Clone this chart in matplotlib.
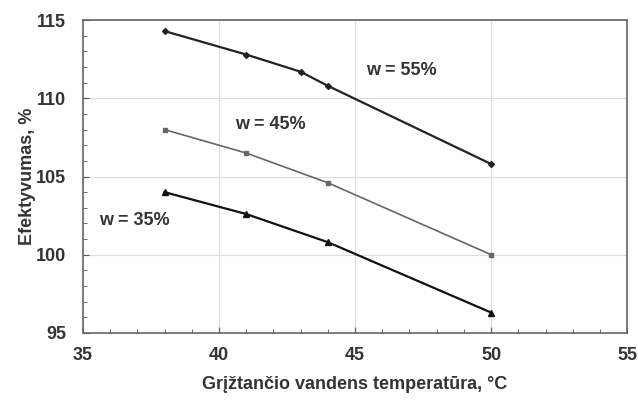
import matplotlib

matplotlib.use("Agg")
import matplotlib.pyplot as plt
from matplotlib.ticker import MultipleLocator

plt.rcParams["font.family"] = ["Liberation Sans", "DejaVu Sans"]
plt.rcParams["font.weight"] = "bold"

# duomenys nuskaityti nuo paveikslo
temp_55 = [38, 41, 43, 44, 50]
eff_55 = [114.3, 112.8, 111.7, 110.8, 105.8]
temp_45 = [38, 41, 44, 50]
eff_45 = [108.0, 106.5, 104.6, 100.0]
temp_35 = [38, 41, 44, 50]
eff_35 = [104.0, 102.6, 100.8, 96.3]

labels = ["w = 55%", "w = 45%", "w = 35%"]
label_pos = [(46.7, 111.8), (41.9, 108.3), (36.9, 102.2)]

fs = 13

fig = plt.figure(figsize=(6.38, 4.03), dpi=100)
ax = fig.add_axes([0.130, 0.174, 0.853, 0.776])

ax.plot(temp_55, eff_55, color="#222222", lw=1.6, marker="D", ms=3)
ax.plot(temp_45, eff_45, color="#666666", lw=1.2, marker="s", ms=3.5)
ax.plot(temp_35, eff_35, color="#111111", lw=1.6, marker="^", ms=4)

for text, (x, y) in zip(labels, label_pos):
    ax.text(x, y, text, fontsize=fs, fontweight="bold", color="#333333",
            ha="center", va="center")

ax.set_xlim(35, 55)
ax.set_ylim(95, 115)
ax.xaxis.set_major_locator(MultipleLocator(5))
ax.xaxis.set_minor_locator(MultipleLocator(1))
ax.yaxis.set_major_locator(MultipleLocator(5))
ax.yaxis.set_minor_locator(MultipleLocator(1))
ax.tick_params(which="both", direction="in", color="#555555",
               labelsize=fs, labelcolor="#333333")
ax.tick_params(which="major", length=4, pad=10)
ax.tick_params(which="minor", length=3)
ax.tick_params(axis="y", pad=12)
ax.grid(True, which="major", color="#dddddd", lw=0.8)
ax.set_axisbelow(True)
for side in ax.spines.values():
    side.set_color("#666666")
    side.set_linewidth(1.2)

ax.set_xlabel("Grįžtančio vandens temperatūra, °C", fontsize=fs,
              fontweight="bold", color="#333333", labelpad=9)
ax.set_ylabel("Efektyvumas, %", fontsize=fs, fontweight="bold",
              color="#333333", labelpad=0)

fig.savefig("out.png", dpi=100)
